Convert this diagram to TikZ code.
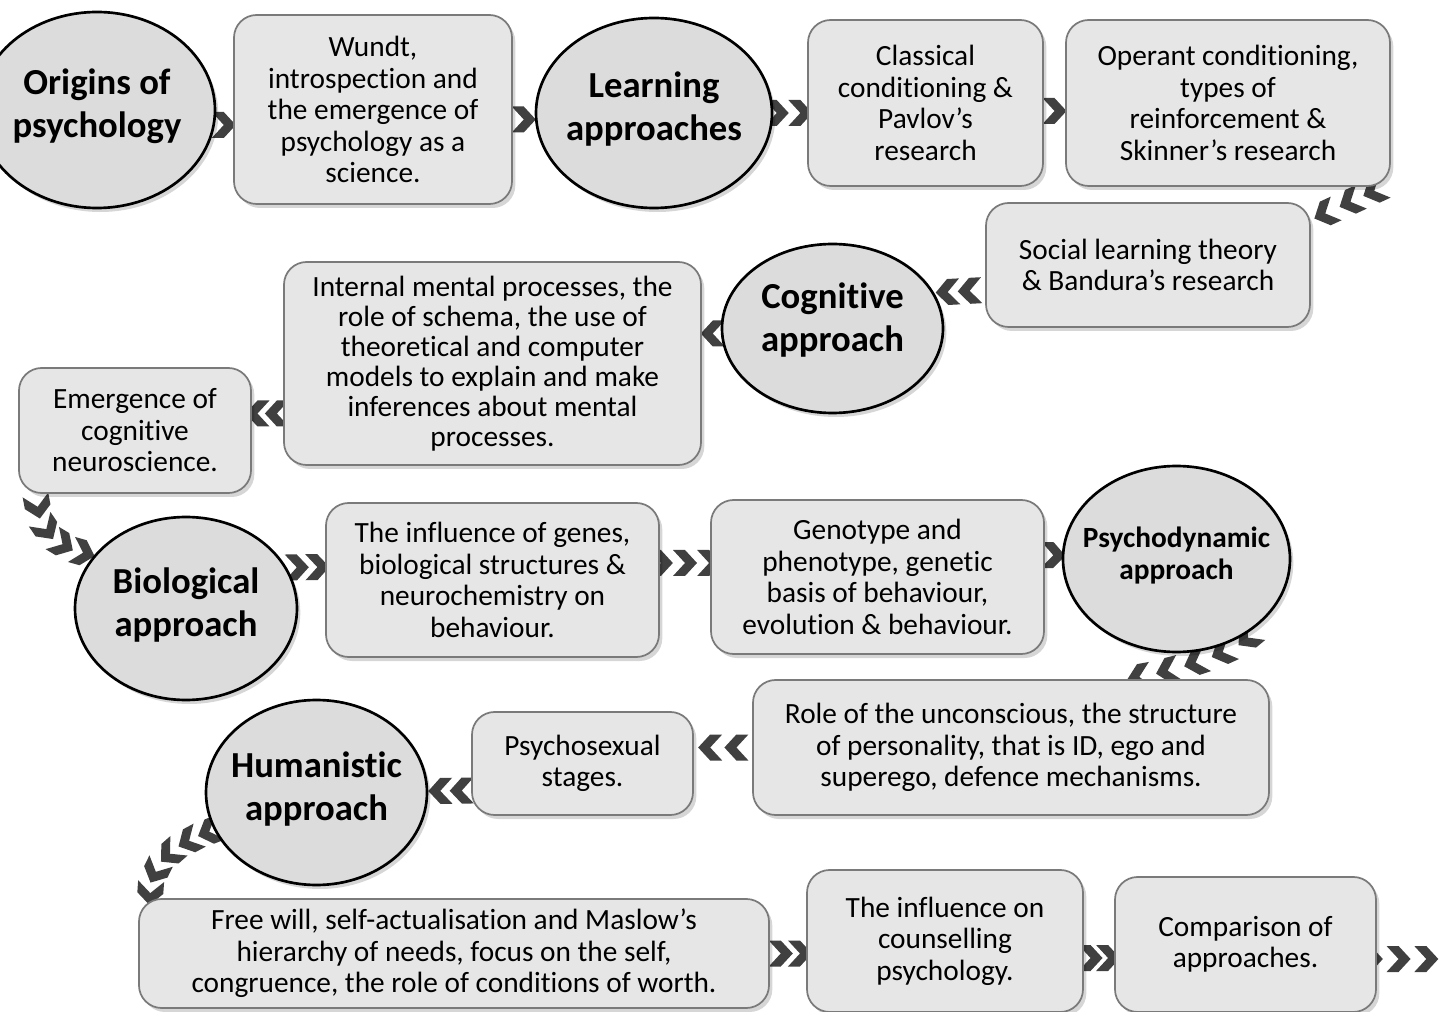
\documentclass[tikz,border=0pt]{standalone}
\usepackage{fontspec}
\setmainfont[Ligatures=CommonOff]{Carlito}
\usetikzlibrary{shapes.geometric,shadows,backgrounds,decorations.markings,calc}
\definecolor{chevc}{HTML}{404040}
\definecolor{boxfill}{HTML}{E6E6E6}
\definecolor{boxline}{HTML}{7A7A7A}
\definecolor{ellfill}{HTML}{DCDCDC}
\tikzset{
  sh/.style={drop shadow={shadow xshift=2.5pt,shadow yshift=-3pt,opacity=0.16,fill=black}},
  topic/.style 2 args={ellipse, draw=black, line width=2pt, fill=ellfill,
    minimum width=#1*0.75pt, minimum height=#2*0.75pt, inner xsep=-8pt, inner ysep=0pt, align=center,
    font=\fontsize{27.5}{32}\selectfont\bfseries, text depth=10pt, sh},
  card/.style 2 args={rectangle, rounded corners=17pt, draw=boxline, line width=1.3pt, fill=boxfill,
    minimum width=#1*0.75pt, minimum height=#2*0.75pt, inner sep=0pt, align=center,
    font=\fontsize{22}{23.6}\selectfont, sh},
  ch/.style={postaction={decorate, decoration={markings, mark=at position #1 with
    {\fill[chevc] (-12,-13) -- (0,-13) -- (12,0) -- (0,13) -- (-12,13) -- (0,0) -- cycle;}}}},
}
\begin{document}
\begin{tikzpicture}[x=0.75pt,y=-0.75pt]
\useasboundingbox (0,0) rectangle (1440,1012);
\clip (0,0) rectangle (1440,1012);
% nodes
\node[topic={236}{196}] (origins) at (97,110) {Origins of\\psychology};
\node[card={278}{189}] (wundt) at (373,109.5) {Wundt,\\introspection and\\the emergence of\\psychology as a\\science.};
\node[topic={236}{190}] (learning) at (654,113) {Learning\\approaches};
\node[card={235}{166}] (classical) at (925.5,103) {Classical\\conditioning \&\\Pavlov’s\\research};
\node[card={324}{166}] (operant) at (1228,103) {Operant conditioning,\\types of\\reinforcement \&\\Skinner’s research};
\node[card={324}{124}] (social) at (1148,265) {Social learning theory\\\& Bandura’s research};
\node[topic={221}{169}, text depth=17pt] (cognitive) at (832.5,328.5) {Cognitive\\approach};
\node[card={417}{203}, font=\fontsize{22}{22.5}\selectfont] (internal) at (492.5,363.5) {Internal mental processes, the\\role of schema, the use of\\theoretical and computer\\models to explain and make\\inferences about mental\\processes.};
\node[card={232}{125}] (emergence) at (135,430.5) {Emergence of\\cognitive\\neuroscience.};
\node[topic={222}{183}] (biological) at (186,608.5) {Biological\\approach};
\node[card={333}{154}] (genes) at (492.5,580) {The influence of genes,\\biological structures \&\\neurochemistry on\\behaviour.};
\node[card={333}{154}] (genotype) at (877.5,577) {Genotype and\\phenotype, genetic\\basis of behaviour,\\evolution \& behaviour.};
\node[topic={227}{186}, font=\fontsize{22}{24}\selectfont\bfseries, text depth=9pt, inner xsep=-13pt] (psychodynamic) at (1176.5,559) {Psychodynamic\\approach};
\node[card={516}{135}] (role) at (1011,747.5) {Role of the unconscious, the structure\\of personality, that is ID, ego and\\superego, defence mechanisms.};
\node[card={221}{103}] (psychosexual) at (582.5,763.5) {Psychosexual\\stages.};
\node[topic={221}{185}] (humanistic) at (316.5,792.5) {Humanistic\\approach};
\node[card={630}{109}] (freewill) at (454,953.5) {Free will, self-actualisation and Maslow’s\\hierarchy of needs, focus on the self,\\congruence, the role of conditions of worth.};
\node[card={276}{142}] (counselling) at (945,941) {The influence on\\counselling\\psychology.};
\node[card={261}{135}] (comparison) at (1245.5,944.5) {Comparison of\\approaches.};
\coordinate (tail) at (1454,959);
% connectors
\begin{pgfonlayer}{background}
\fill[white] (0,0) rectangle (1440,1012);
\path[ch=0.55] ($(origins.east)+(-4,15)$) -- ($(origins.east -| wundt.west)+(0,15)$);
\path[ch=0.5] ($(wundt.east)+(0,10)$) -- ($(wundt.east -| learning.west)+(0,10)$);
\path[ch=0.1,ch=0.8] (learning.east) -- (learning.east -| classical.west);
\path[ch=0.5] ($(classical.east)+(0,8)$) -- ($(operant.west)+(0,8)$);
\path[ch=0.12,ch=0.45,ch=0.8] ($(operant.south east)+(-8,0)$) -- ($(social.north east)+(0,18)$);
\path[ch=0.33,ch=0.8] ($(social.west)+(0,25)$) -- ($(cognitive.east)+(-6,-36)$);
\path[ch=0.5] ($(cognitive.west)+(3,5)$) -- ($(cognitive.west -| internal.east)+(0,5)$);
\path[ch=0.2,ch=0.82] ($(internal.west)+(0,50)$) -- ($(internal.west -| emergence.east)+(0,50)$);
\path[ch=0.14,ch=0.4,ch=0.64,ch=0.88] ($(emergence.south west)+(18,0)$) .. controls ($(emergence.south west)+(20,35)$) and ($(biological.150)+(-40,-8)$) .. (biological.150);
\path[ch=0.27,ch=0.8] ($(biological.east)+(-12,-41)$) -- ($(genes.west)+(0,-13)$);
\path[ch=0.02,ch=0.5,ch=0.98] ($(genes.east)+(0,-17)$) -- ($(genotype.west)+(0,-14)$);
\path[ch=0.5] ($(genotype.east)+(0,-22)$) -- (psychodynamic);
\path[ch=0.1,ch=0.3,ch=0.5,ch=0.7,ch=0.9] (psychodynamic.-40) .. controls ($(psychodynamic.-40)+(-10,25)$) and ($(role.north)+(154,-5)$) .. ($(role.north)+(114,0)$);
\path[ch=0.27,ch=0.72] (role.west) -- (role.west -| psychosexual.east);
\path[ch=0.22,ch=0.72] ($(psychosexual.west)+(0,27)$) -- (humanistic);
\path[ch=0.05,ch=0.27,ch=0.5,ch=0.73,ch=0.95] (humanistic.200) .. controls ($(humanistic.200)+(-40,15)$) and ($(freewill.north west)+(12,-35)$) .. ($(freewill.north west)+(12,0)$);
\path[ch=0.3,ch=0.83] (freewill.east) -- (freewill.east -| counselling.west);
\path[ch=0.22,ch=0.8] ($(counselling.east)+(0,17)$) -- ($(counselling.east -| comparison.west)+(0,17)$);
\path[ch=0,ch=0.333,ch=0.667] ($(comparison.east)+(-6,14.5)$) -- (tail);
\end{pgfonlayer}
\end{tikzpicture}
\end{document}
